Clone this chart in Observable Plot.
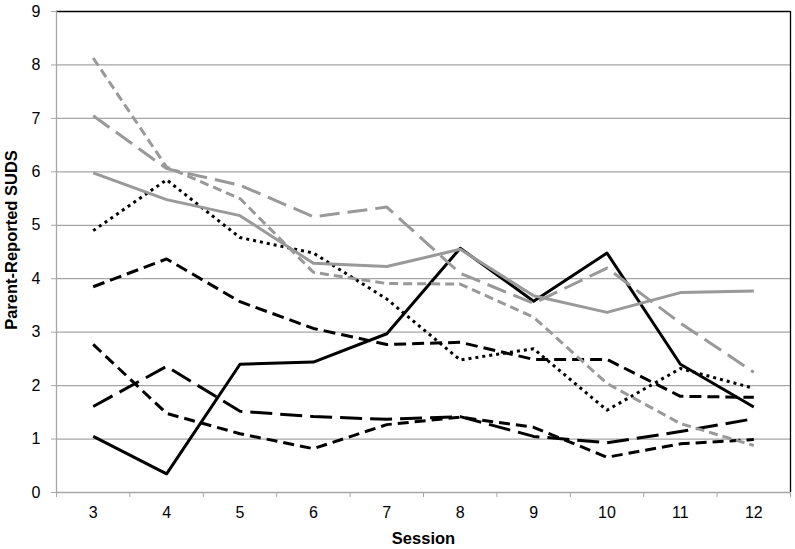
<!DOCTYPE html>
<html>
<head>
<meta charset="utf-8">
<script src="https://cdn.jsdelivr.net/npm/d3@7"></script>
<script src="https://cdn.jsdelivr.net/npm/@observablehq/plot@0.6"></script>
<style>
  html, body { margin: 0; padding: 0; background: #fff; }
  #chart svg { display: block; }
</style>
</head>
<body>
<div id="chart"></div>
<script>
const sessions = [3, 4, 5, 6, 7, 8, 9, 10, 11, 12];
const yTicks = [0, 1, 2, 3, 4, 5, 6, 7, 8, 9];

const graySolid     = [5.98, 5.48, 5.18, 4.29, 4.23, 4.55, 3.68, 3.37, 3.74, 3.77];
const grayLongDash  = [7.05, 6.06, 5.75, 5.16, 5.34, 4.10, 3.54, 4.20, 3.17, 2.25];
const grayShortDash = [8.13, 6.09, 5.50, 4.12, 3.91, 3.90, 3.28, 2.04, 1.29, 0.88];
const blackDotted   = [4.90, 5.85, 4.77, 4.48, 3.62, 2.48, 2.69, 1.54, 2.32, 1.95];
const blackDash     = [3.85, 4.37, 3.57, 3.07, 2.77, 2.81, 2.49, 2.49, 1.80, 1.78];
const blackSolid    = [1.05, 0.35, 2.40, 2.44, 2.97, 4.57, 3.58, 4.48, 2.40, 1.60];
const blackLongDash = [1.61, 2.36, 1.52, 1.42, 1.37, 1.42, 1.05, 0.93, 1.14, 1.38];
const blackShortDash= [2.77, 1.48, 1.10, 0.82, 1.27, 1.41, 1.22, 0.66, 0.91, 0.99];

const series = [
  {values: blackDotted,    stroke: "#000", dash: "3,4"},
  {values: blackDash,      stroke: "#000", dash: "12,6"},
  {values: blackSolid,     stroke: "#000", dash: null},
  {values: blackLongDash,  stroke: "#000", dash: "22,8"},
  {values: blackShortDash, stroke: "#000", dash: "11,6"},
  {values: graySolid,      stroke: "#999", dash: null},
  {values: grayLongDash,   stroke: "#999", dash: "20,8"},
  {values: grayShortDash,  stroke: "#999", dash: "9,5"}
];

const lineMarks = series.map(s => Plot.line(
  sessions.map((x, i) => ({x, y: s.values[i]})),
  {x: "x", y: "y", stroke: s.stroke, strokeWidth: 3, strokeDasharray: s.dash, strokeLinejoin: "round", strokeLinecap: "butt"}
));

const bandEdges = d3.range(2.5, 13, 1);

const chart = Plot.plot({
  width: 795,
  height: 549,
  marginLeft: 56,
  marginRight: 5,
  marginTop: 11,
  marginBottom: 57,
  style: {fontFamily: "'Liberation Sans', Arial, sans-serif", fontSize: "16px", background: "#fff", color: "#000"},
  x: {domain: [2.5, 12.5], axis: null},
  y: {domain: [0, 9], axis: null},
  marks: [
    Plot.ruleY(yTicks.filter(d => d > 0 && d < 9), {stroke: "#a6a6a6", strokeWidth: 1.3}),
    Plot.ruleY([9], {stroke: "#000", strokeWidth: 1.3}),
    Plot.ruleX([12.5], {stroke: "#000", strokeWidth: 1.3}),
    Plot.ruleX([2.5], {stroke: "#a6a6a6", strokeWidth: 1.3}),
    Plot.ruleY([0], {stroke: "#a6a6a6", strokeWidth: 1.3}),
    Plot.axisY({ticks: yTicks, tickSize: 5, tickPadding: 11, stroke: "#a6a6a6", fill: "#000", label: null, tickFormat: d => String(d)}),
    Plot.axisX({ticks: bandEdges, tickSize: 5, stroke: "#a6a6a6", tickFormat: () => "", label: null}),
    Plot.axisX({ticks: sessions, tickSize: 0, tickPadding: 14, fill: "#000", label: null, tickFormat: d => String(d)}),
    ...lineMarks,
    Plot.text(["Parent-Reported SUDS"], {frameAnchor: "left", textAnchor: "middle", lineAnchor: "middle", rotate: -90, dx: -45, dy: -12, fontWeight: "bold", fontSize: 16.5, fill: "#000"}),
    Plot.text(["Session"], {frameAnchor: "bottom", textAnchor: "middle", lineAnchor: "middle", dy: 46, fontWeight: "bold", fontSize: 16.5, fill: "#000"})
  ]
});
document.getElementById("chart").appendChild(chart);
</script>
</body>
</html>
